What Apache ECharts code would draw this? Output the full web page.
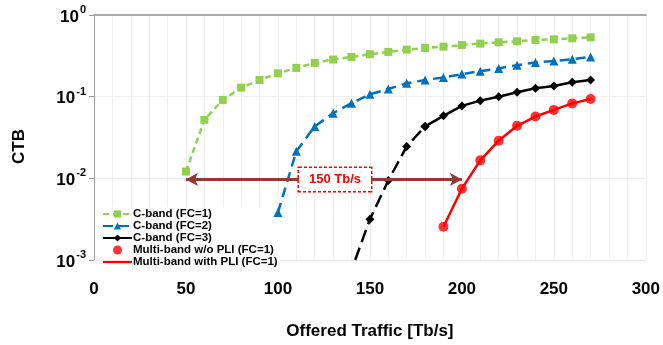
<!DOCTYPE html>
<html>
<head>
<meta charset="utf-8">
<script src="https://cdn.jsdelivr.net/npm/echarts@6/dist/echarts.min.js"></script>
<style>html,body{margin:0;padding:0;background:#fff}#c{width:663px;height:345px}</style>
</head>
<body>
<div id="c"></div>
<script>
// ---- data ----
const seriesNames = ['C-band (FC=1)', 'C-band (FC=2)', 'C-band (FC=3)', 'Multi-band w/o PLI (FC=1)', 'Multi-band with PLI (FC=1)'];

const fc1X = [50, 60, 70, 80, 90, 100, 110, 120, 130, 140, 150, 160, 170, 180, 190, 200, 210, 220, 230, 240, 250, 260, 270];
const fc1Y = [0.0121, 0.0521, 0.0912, 0.129, 0.160, 0.193, 0.225, 0.259, 0.285, 0.307, 0.331, 0.353, 0.377, 0.394, 0.410, 0.429, 0.446, 0.463, 0.476, 0.494, 0.503, 0.518, 0.532];

const fc2X = [100, 110, 120, 130, 140, 150, 160, 170, 180, 190, 200, 210, 220, 230, 240, 250, 260, 270];
const fc2Y = [0.00382, 0.0214, 0.0432, 0.0628, 0.0831, 0.107, 0.124, 0.146, 0.160, 0.172, 0.189, 0.205, 0.222, 0.243, 0.262, 0.274, 0.287, 0.307];

// dashed extrapolated part of FC=3 (line reaches the 10^-3 axis near 142, no marker there)
const fc3DashX = [142, 150, 160, 170, 180];
const fc3DashY = [0.001, 0.00316, 0.0094, 0.0246, 0.0432];
const fc3DashMarker = [false, true, true, true, true];
// solid part of FC=3
const fc3X = [180, 190, 200, 210, 220, 230, 240, 250, 260, 270];
const fc3Y = [0.0432, 0.0582, 0.0771, 0.0894, 0.100, 0.113, 0.127, 0.135, 0.150, 0.160];

const mbX = [190, 200, 210, 220, 230, 240, 250, 260, 270];
const mbNoPliY = [0.00255, 0.00747, 0.0166, 0.0289, 0.0440, 0.0571, 0.0689, 0.0827, 0.0938];
const mbPliY = [0.00255, 0.00747, 0.0166, 0.0289, 0.0440, 0.0571, 0.0689, 0.0827, 0.0938];

// annotation
const arrowFrom = 50, arrowTo = 200, arrowLevel = 0.0097;
const annotText = '150 Tb/s';
const annotX = 131;

const xTicks = {min: 0, max: 300, interval: 50};
const yTicks = {min: 0.001, max: 1};

const zip = (xs, ys) => xs.map((x, i) => [x, ys[i]]);

const chart = echarts.init(document.getElementById('c'), null, {renderer: 'canvas'});
const FONT = 'Liberation Sans, Arial, sans-serif';
const gridColor = '#f0f0f0';

chart.setOption({
  animation: false,
  backgroundColor: '#fff',
  grid: {left: 94, right: 16, top: 15, bottom: 84, containLabel: false},
  legend: {
    z: 1,
    data: [
      {name: seriesNames[0]}, {name: seriesNames[1]}, {name: seriesNames[2]}, {name: seriesNames[3]},
      {name: seriesNames[4], icon: 'path://M0,0 L30,0 L30,2.4 L0,2.4 Z'}
    ],
    orient: 'vertical',
    left: 100, top: 207,
    itemWidth: 29, itemHeight: 9, itemGap: 0,
    padding: [1, 2, 1, 2],
    backgroundColor: '#fff',
    textStyle: {fontFamily: FONT, fontWeight: 'bold', fontSize: 11.5, color: '#000', padding: [0, 0, 0, -4]}
  },
  xAxis: [{
    type: 'value', min: xTicks.min, max: xTicks.max, interval: xTicks.interval,
    name: 'Offered Traffic [Tb/s]', nameLocation: 'middle', nameGap: 63,
    nameTextStyle: {fontFamily: FONT, fontWeight: 'bold', fontSize: 17, color: '#000'},
    axisLine: {show: true, lineStyle: {color: '#e8e8e8', width: 1}},
    axisTick: {show: false},
    axisLabel: {fontFamily: FONT, fontWeight: 'bold', fontSize: 17, color: '#000', margin: 21},
    splitLine: {show: true, lineStyle: {color: gridColor, width: 1}},
    minorTick: {show: false, splitNumber: 5},
    minorSplitLine: {show: true, lineStyle: {color: gridColor, width: 1}}
  }, {
    type: 'value', position: 'top', min: xTicks.min, max: xTicks.max, interval: xTicks.interval,
    axisLine: {show: true, lineStyle: {color: '#aaa', width: 2}},
    axisTick: {show: false}, axisLabel: {show: false}, splitLine: {show: false}
  }],
  yAxis: {
    type: 'log', logBase: 10, min: yTicks.min, max: yTicks.max,
    name: 'CTB', nameLocation: 'middle', nameGap: 66, nameRotate: 90,
    nameTextStyle: {fontFamily: FONT, fontWeight: 'bold', fontSize: 17, color: '#000', padding: [0, 18, 0, 0]},
    axisLine: {show: true, lineStyle: {color: '#999', width: 1}},
    axisTick: {show: true, inside: false, length: 5, lineStyle: {color: '#999'}},
    splitLine: {show: true, lineStyle: {color: gridColor, width: 1}},
    axisLabel: {
      margin: 8,
      formatter: v => '{b|10}{s|' + Math.round(Math.log10(v)) + '}',
      rich: {
        b: {fontFamily: FONT, fontWeight: 'bold', fontSize: 17, color: '#000', verticalAlign: 'bottom'},
        s: {fontFamily: FONT, fontWeight: 'bold', fontSize: 11, color: '#000', verticalAlign: 'top', padding: [0, 0, 10, 1]}
      }
    }
  },
  series: [
    {
      name: seriesNames[0], type: 'line', data: zip(fc1X, fc1Y),
      symbol: 'rect', symbolSize: 8, color: '#92D050',
      lineStyle: {type: [6, 4], width: 2.5, color: '#92D050'},
      itemStyle: {color: '#92D050'}, z: 3
    },
    {
      name: seriesNames[1], type: 'line', data: zip(fc2X, fc2Y),
      symbol: 'triangle', symbolSize: 9, color: '#0070C0',
      lineStyle: {type: [10, 6], width: 2.5, color: '#0070C0'},
      itemStyle: {color: '#0070C0'}, z: 3
    },
    {
      name: 'fc3dash', type: 'line',
      data: fc3DashX.map((x, i) => fc3DashMarker[i] ? {value: [x, fc3DashY[i]]} : {value: [x, fc3DashY[i]], symbol: 'none'}),
      symbol: 'diamond', symbolSize: 9, showSymbol: true, color: '#000',
      lineStyle: {type: [13, 6], width: 2.5, color: '#000'},
      itemStyle: {color: '#000'}, z: 3,
      markLine: {
        silent: true, symbol: ['arrow', 'arrow'], symbolSize: [10, 12], z: 5,
        lineStyle: {color: '#953735', width: 3, type: 'solid'},
        label: {show: false},
        data: [[{coord: [arrowFrom, arrowLevel]}, {coord: [arrowTo, arrowLevel]}]]
      },
      markPoint: {
        silent: true, symbol: 'rect', symbolSize: 0, z: 6,
        label: {
          show: true, formatter: annotText, position: 'inside',
          fontFamily: FONT, fontWeight: 'bold', fontSize: 13, color: '#FF0000',
          backgroundColor: '#fff', borderColor: '#FF0000', borderWidth: 1.5, borderType: [3, 2],
          padding: [5, 10, 5, 10]
        },
        data: [{coord: [annotX, arrowLevel]}]
      }
    },
    {
      name: seriesNames[2], type: 'line', data: zip(fc3X, fc3Y),
      symbol: 'diamond', symbolSize: 9, color: '#000',
      lineStyle: {type: 'solid', width: 2.5, color: '#000'},
      itemStyle: {color: '#000'}, z: 3
    },
    {
      name: seriesNames[3], type: 'scatter', data: zip(mbX, mbNoPliY),
      symbol: 'circle', symbolSize: 10, color: '#FF0000',
      itemStyle: {color: '#FF0000'}, z: 4
    },
    {
      name: seriesNames[4], type: 'line', data: zip(mbX, mbPliY),
      symbol: 'none', color: '#FF0000',
      lineStyle: {type: 'solid', width: 2.5, color: '#FF0000'}, z: 3
    }
  ]
});
</script>
</body>
</html>
